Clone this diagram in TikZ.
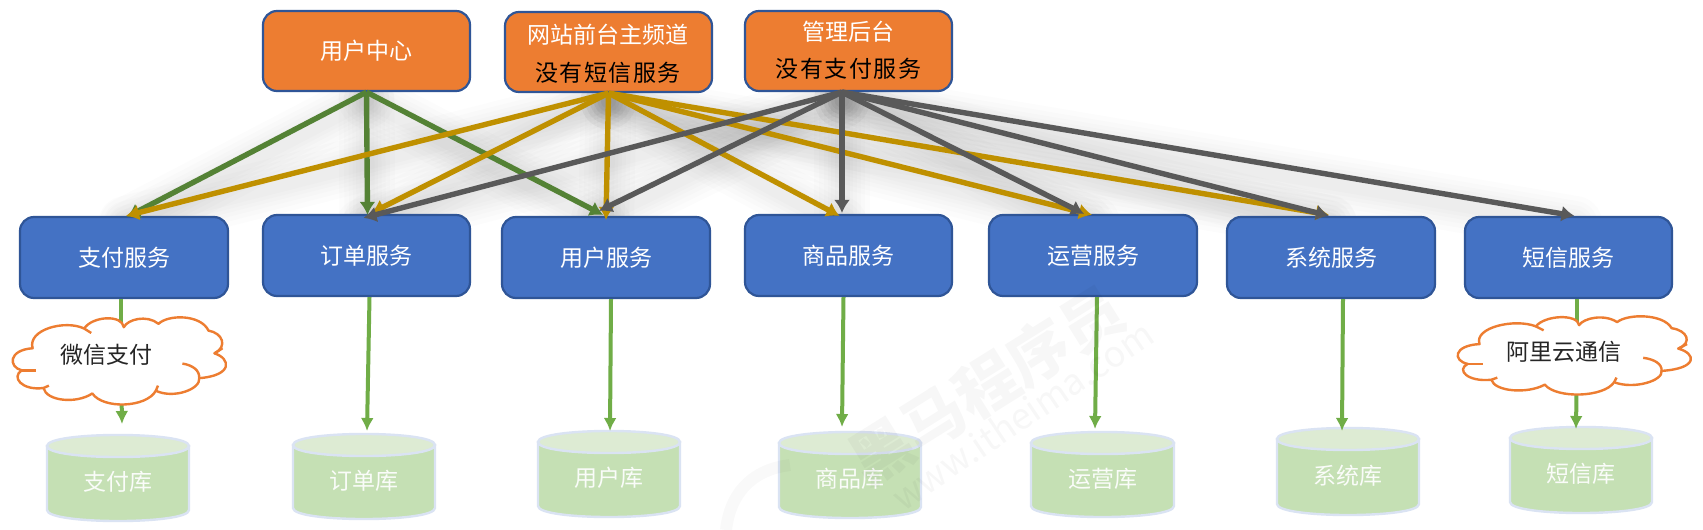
\documentclass[tikz,border=0pt]{standalone}
\usepackage{fontspec}
\setmainfont{Noto Sans CJK SC}
\usetikzlibrary{arrows.meta,calc}
\definecolor{cOrange}{HTML}{ED7D31}
\definecolor{cBlue}{HTML}{4472C4}
\definecolor{cEdge}{HTML}{2F5597}
\definecolor{cCyl}{HTML}{C5E0B4}
\definecolor{cCylTop}{HTML}{DDEBD3}
\definecolor{cCylEdge}{HTML}{DAE3F3}
\definecolor{cLeaf}{HTML}{70AD47}
\definecolor{cDGreen}{HTML}{548235}
\definecolor{cGold}{HTML}{BF9000}
\definecolor{cGray}{HTML}{595959}
\pgfdeclarelayer{background}
\pgfsetlayers{background,main}
\tikzset{
  boxbase/.style={draw=cEdge,line width=2.2pt,rounded corners=14pt,inner sep=0pt,text=white,font=\fontsize{23}{26}\selectfont,anchor=center},
  orangebox/.style={boxbase,fill=cOrange},
  bluebox/.style={boxbase,fill=cBlue},
  plainlabel/.style={inner sep=0pt,font=\fontsize{23}{26}\selectfont},
  uplink/.style={line width=5.4pt,-{Latex[length=13pt,width=16pt]}},
  goldlink/.style={uplink,draw=cGold},
  graylink/.style={uplink,draw=cGray},
  greenlink/.style={uplink,draw=cDGreen},
  leaflink/.style={draw=cLeaf,line width=4pt,-{Latex[length=13pt,width=13pt]}},
  leafrun/.style={draw=cLeaf,line width=4pt},
  cloudline/.style={draw=cOrange,line width=2.4pt,line join=round},
  cylbody/.style={fill=cCyl,draw=cCylEdge,line width=2.4pt},
  cyltop/.style={fill=cCylTop,draw=cCylEdge,line width=2.4pt},
  wmark/.style={text=black,opacity=.03,inner sep=0pt}
}
\newcommand{\svc}[6]{% name x0 y0 x1 y1 text
  \node[bluebox,minimum width={#4-#2},minimum height={#5-#3}] (#1) at ({(#2+#4)/2},{(#3+#5)/2}) {#6};}
\newcommand{\topbox}[5]{% name x0 y0 x1 y1
  \node[orangebox,minimum width={#4-#2},minimum height={#5-#3}] (#1) at ({(#2+#4)/2},{(#3+#5)/2}) {};}
\newcommand{\dbcyl}[6]{% name x0 y0 x1 y1 text
  \path[cylbody] (#2,#3+11) -- (#2,#5-11) .. controls (#2,#5+3.7) and (#4,#5+3.7) .. (#4,#5-11) -- (#4,#3+11) -- cycle;
  \path[cyltop] (#2,#3+11) .. controls (#2,#3-3.7) and (#4,#3-3.7) .. (#4,#3+11) .. controls (#4,#3+25.7) and (#2,#3+25.7) .. (#2,#3+11) -- cycle;
  \node[plainlabel,text=white!92!cCyl,minimum width={#4-#2},minimum height={#5-#3}] (#1) at ({(#2+#4)/2},{(#3+#5)/2+4}) {#6};}
\newcommand{\conn}[3]{%
  \begin{pgfonlayer}{background}
    \foreach \w in {56,46,37,29,22,15}{\draw[line width=\w pt,black,opacity=.012,line cap=round] ($(#2)+(0,8)$) -- ($(#3)+(0,8)$);}
  \end{pgfonlayer}
  \draw[#1] (#2) -- (#3);}
\newcommand{\cloudshape}[4]{% x0 y0 w h
  \begin{scope}[shift={(#1,#2)},xscale={#3/398},yscale={#4/259}]
  \begin{scope}[shift={(-22,-938)}]
    \path[cloudline,fill=white] (228,968) .. controls (235,945) and (270,930) .. (292,958)
      .. controls (310,930) and (370,930) .. (384,978)
      .. controls (410,985) and (420,1025) .. (395,1045)
      .. controls (425,1060) and (430,1110) .. (367,1118)
      .. controls (370,1150) and (320,1180) .. (287,1155)
      .. controls (270,1205) and (190,1210) .. (170,1163)
      .. controls (140,1195) and (85,1185) .. (80,1147)
      .. controls (40,1155) and (20,1115) .. (40,1095)
      .. controls (15,1085) and (15,1035) .. (60,1030)
      .. controls (50,975) and (120,945) .. (155,972)
      .. controls (170,935) and (225,930) .. (228,968) -- cycle;
    \path[cloudline] (336,1075) .. controls (355,1080) and (368,1095) .. (367,1118);
    \path[cloudline] (40,1095) -- (66,1095);
    \path[cloudline] (395,1045) -- (410,1030);
    \path[cloudline] (155,972) -- (168,985);
    \path[cloudline] (287,1155) -- (291,1140);
    \path[cloudline] (80,1147) -- (90,1140);
  \end{scope}
  \end{scope}}
\begin{document}
\begin{tikzpicture}[x=1pt,y=-1pt]
\useasboundingbox (0,0) rectangle (1703,530);
\begin{pgfonlayer}{background}
\fill[white] (0,0) rectangle (1703,530);
\end{pgfonlayer}

% top boxes
\topbox{uc}{263}{11}{470}{91}
\node[plainlabel,text=white] (ucT) at (366.5,51) {用户中心};
\topbox{web}{505}{12}{712}{92}
\node[plainlabel,text=white] (webA) at (608,35) {网站前台主频道};
\node[plainlabel,text=black] (webB) at (608,73) {没\kern1.5pt 有\kern1.5pt 短\kern1.5pt 信\kern1.5pt 服\kern1.5pt 务};
\topbox{adm}{745}{11}{952}{91}
\node[plainlabel,text=white] (admA) at (848.5,32) {管理后台};
\node[plainlabel,text=black] (admB) at (848.5,69) {没\kern1.5pt 有\kern1.5pt 支\kern1.5pt 付\kern1.5pt 服\kern1.5pt 务};

% services
\svc{pay}{20}{217}{228}{298}{支付服务}
\svc{ord}{263}{215}{470}{296}{订单服务}
\svc{usr}{502}{217}{710}{298}{用户服务}
\svc{prd}{745}{215}{952}{296}{商品服务}
\svc{ops}{989}{215}{1197}{296}{运营服务}
\svc{sys}{1227}{217}{1435}{298}{系统服务}
\svc{sms}{1465}{217}{1672}{298}{短信服务}

% databases
\dbcyl{payD}{47}{435}{189}{521}{支付库}
\dbcyl{ordD}{293}{434}{435}{519}{订单库}
\dbcyl{usrD}{538}{431}{680}{517}{用户库}
\dbcyl{prdD}{779}{432}{921}{518}{商品库}
\dbcyl{opsD}{1031}{432}{1174}{517}{运营库}
\dbcyl{sysD}{1277}{428}{1419}{515}{系统库}
\dbcyl{smsD}{1510}{427}{1652}{513}{短信库}

% cloud anchors
\node[minimum width=216pt,minimum height=88pt,inner sep=0pt] (wx) at (121,361) {};
\node[minimum width=236pt,minimum height=79pt,inner sep=0pt] (ali) at (1577,355.5) {};

% source and target points
\coordinate (sAdm) at ([xshift=-6.5pt]adm.south);
\coordinate (tPayG) at ([xshift=3pt,yshift=-1pt]pay.north);
\coordinate (tPayO) at ([xshift=2pt]pay.north);
\coordinate (tOrdG) at ([xshift=1pt,yshift=-1pt]ord.north);
\coordinate (tOrdO) at ([xshift=5pt,yshift=1pt]ord.north);
\coordinate (tOrdK) at ([xshift=-3pt,yshift=-4pt]ord.north);
\coordinate (tUsrG) at ([xshift=-3pt,yshift=1pt]usr.north);
\coordinate (tUsrO) at ([yshift=-4pt]usr.north);
\coordinate (tUsrK) at ([xshift=-7pt,yshift=5pt]usr.north);
\coordinate (tPrdO) at ([xshift=-9pt,yshift=-2pt]prd.north);
\coordinate (tPrdK) at ([xshift=-6.5pt,yshift=1pt]prd.north);
\coordinate (tOpsO) at ([xshift=-1pt,yshift=-1pt]ops.north);
\coordinate (tOpsK) at ([xshift=-9pt]ops.north);
\coordinate (tSysO) at ([xshift=-2pt,yshift=1pt]sys.north);
\coordinate (tSysK) at ([xshift=-2pt]sys.north);
\coordinate (tSmsK) at ([xshift=6pt]sms.north);

% connectors
\conn{greenlink}{uc.south}{tPayG}
\conn{greenlink}{uc.south}{tOrdG}
\conn{greenlink}{uc.south}{tUsrG}
\conn{goldlink}{web.south}{tPayO}
\conn{goldlink}{web.south}{tOrdO}
\conn{goldlink}{web.south}{tUsrO}
\conn{goldlink}{web.south}{tPrdO}
\conn{goldlink}{web.south}{tOpsO}
\conn{goldlink}{web.south}{tSysO}
\conn{graylink}{sAdm}{tOrdK}
\conn{graylink}{sAdm}{tUsrK}
\conn{graylink}{sAdm}{tPrdK}
\conn{graylink}{sAdm}{tOpsK}
\conn{graylink}{sAdm}{tSysK}
\conn{graylink}{sAdm}{tSmsK}

% lower links
\coordinate (bOrd) at ([xshift=3pt]ord.south);
\coordinate (bUsr) at ([xshift=5pt]usr.south);
\coordinate (bPrd) at ([xshift=-5pt]prd.south);
\coordinate (bOps) at ([xshift=4pt]ops.south);
\coordinate (bSys) at ([xshift=12pt]sys.south);
\coordinate (bPay) at ([xshift=-3pt]pay.south);
\coordinate (bSms) at ([xshift=8.5pt]sms.south);
\coordinate (ePay) at (122,424);
\coordinate (eOrd) at (367,431);
\coordinate (eUsr) at (610,431);
\coordinate (ePrd) at (842,427);
\coordinate (eOps) at (1095,429);
\coordinate (eSys) at (1342,431);
\coordinate (eSms) at (1576,429);
\draw[leafrun] (bPay) -- (wx.center);
\draw[leaflink] (wx.center) -- (ePay);
\draw[leaflink] (bOrd) -- (eOrd);
\draw[leaflink] (bUsr) -- (eUsr);
\draw[leaflink] (bPrd) -- (ePrd);
\draw[leaflink] (bOps) -- (eOps);
\draw[leaflink] (bSys) -- (eSys);
\draw[leafrun] (bSms) -- (ali.center);
\draw[leaflink] (ali.center) -- (eSms);

% clouds
\cloudshape{12}{317}{216}{88}
\node[plainlabel,text=black!85] (wxT) at (106,355) {微信支付};
\cloudshape{1457}{316}{236}{79}
\node[plainlabel,text=black!85] (aliT) at (1564,352) {阿里云通信};

% watermark
\node[wmark,rotate=32,font=\fontsize{62}{62}\selectfont\bfseries] (wmA) at (986,385) {黑马程序员};
\node[wmark,rotate=34,font=\fontsize{36}{36}\selectfont] (wmB) at (1022,415) {www.itheima.com};
\draw[black,opacity=.025,line width=12pt] (726,530) .. controls (730,495) and (750,470) .. (790,465);
\end{tikzpicture}
\end{document}
